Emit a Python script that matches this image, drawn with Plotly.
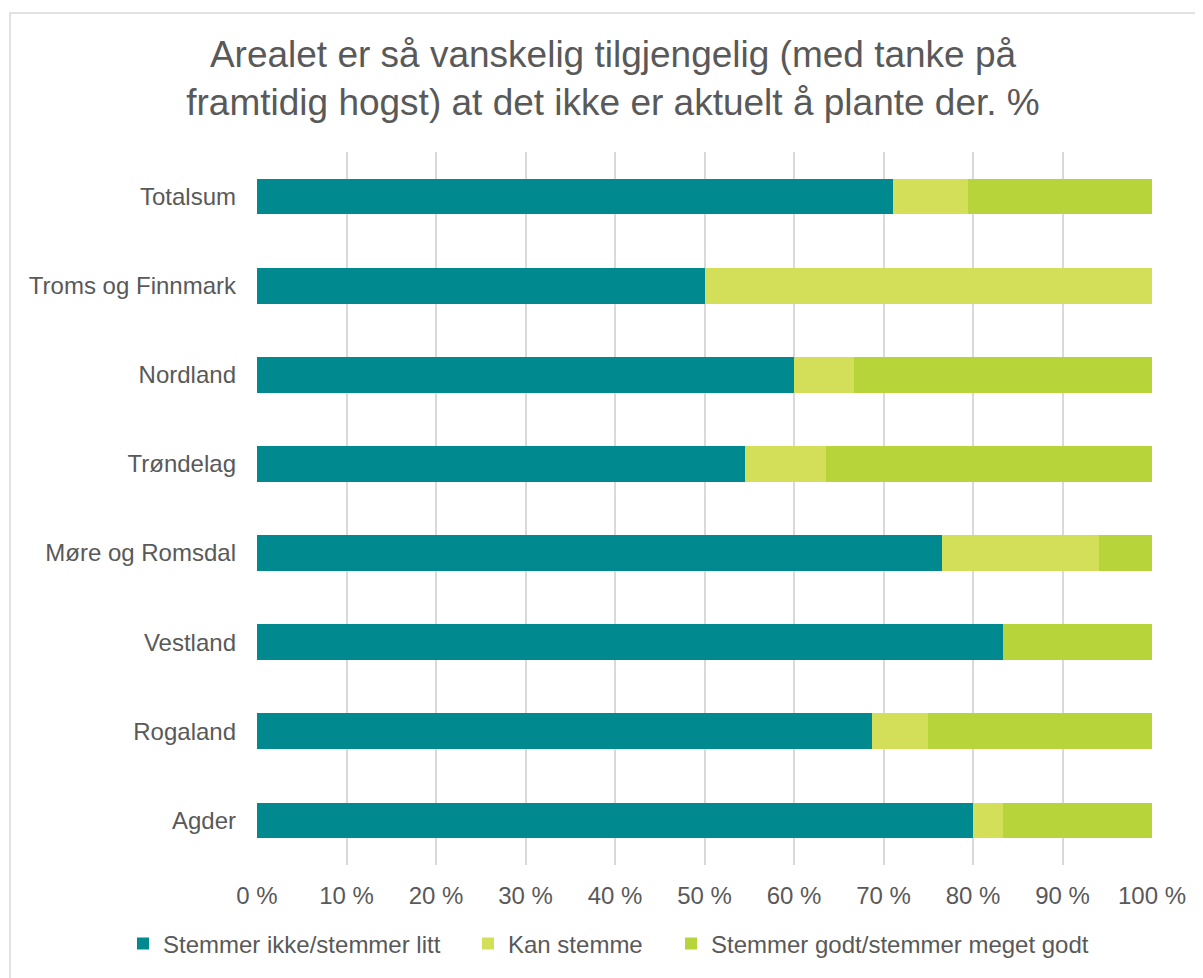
import plotly.graph_objects as go

categories = ["Totalsum", "Troms og Finnmark", "Nordland", "Trøndelag",
              "Møre og Romsdal", "Vestland", "Rogaland", "Agder"]
stemmer_ikke = [71.1, 50.0, 60.0, 54.5, 76.5, 83.3, 68.75, 80.0]
kan_stemme = [8.3, 50.0, 6.7, 9.1, 17.6, 0.0, 6.25, 3.3]
stemmer_godt = [20.6, 0.0, 33.3, 36.4, 5.9, 16.7, 25.0, 16.7]
tick_vals = [0, 10, 20, 30, 40, 50, 60, 70, 80, 90, 100]
tick_text = [f"{v} %" for v in tick_vals]

series = [
    ("Stemmer ikke/stemmer litt", stemmer_ikke, "#00898E", 300),
    ("Kan stemme", kan_stemme, "#D4DF59", 158),
    ("Stemmer godt/stemmer meget godt", stemmer_godt, "#B7D43A", 380),
]

fig = go.Figure()
for name, vals, color, lw in series:
    fig.add_trace(go.Bar(
        y=categories, x=vals, name=name, orientation="h",
        marker=dict(color=color, line=dict(width=0)),
        legendwidth=lw,
        hoverinfo="x+y+name",
    ))

OFF = 8  # page body margin
W, H = 1203, 978
L, T = 257 - OFF, 152 - OFF
pw = 895
ph = 713
R = W - L - pw
B = H - T - ph

def px_x(p):
    return (p - OFF - L) / pw

def px_y(p):
    return (T + ph - (p - OFF)) / ph

fig.update_layout(
    width=W, height=H,
    margin=dict(l=L, r=R, t=T, b=B),
    barmode="stack",
    bargap=0.6,
    paper_bgcolor="white", plot_bgcolor="white",
    font=dict(family="Liberation Sans, Arial, sans-serif", color="#595959", size=24),
    title=dict(
        text="Arealet er så vanskelig tilgjengelig (med tanke på<br>framtidig hogst) at det ikke er aktuelt å plante der. %",
        font=dict(size=37, color="#595959"),
        x=(613 - OFF) / W, xanchor="center", xref="container",
        y=1 - (67 - OFF) / H, yanchor="middle", yref="container",
    ),
    xaxis=dict(
        range=[0, 100], tickvals=tick_vals, ticktext=tick_text,
        showgrid=True, gridcolor="#D9D9D9", gridwidth=2,
        zeroline=False, showline=False, ticks="", ticklabelstandoff=14,
        tickfont=dict(size=24, color="#595959"), fixedrange=True,
    ),
    yaxis=dict(
        categoryorder="array", categoryarray=categories, autorange="reversed",
        showgrid=False, zeroline=False, showline=False, ticks="",
        ticklabelstandoff=20,
        tickfont=dict(size=24, color="#595959"),
    ),
    legend=dict(
        orientation="h", traceorder="normal",
        x=px_x(163 - 40), xanchor="left",
        y=px_y(944), yanchor="middle",
        font=dict(size=24, color="#595959"),
        itemclick=False, itemdoubleclick=False,
    ),
    shapes=[dict(
        type="rect", xref="paper", yref="paper",
        x0=px_x(10), x1=px_x(W + 40),
        y0=px_y(H + 40), y1=px_y(13),
        line=dict(color="#D9D9D9", width=1.5), fillcolor="rgba(0,0,0,0)",
        layer="below",
    )],
)

fig.write_html("out.html")
